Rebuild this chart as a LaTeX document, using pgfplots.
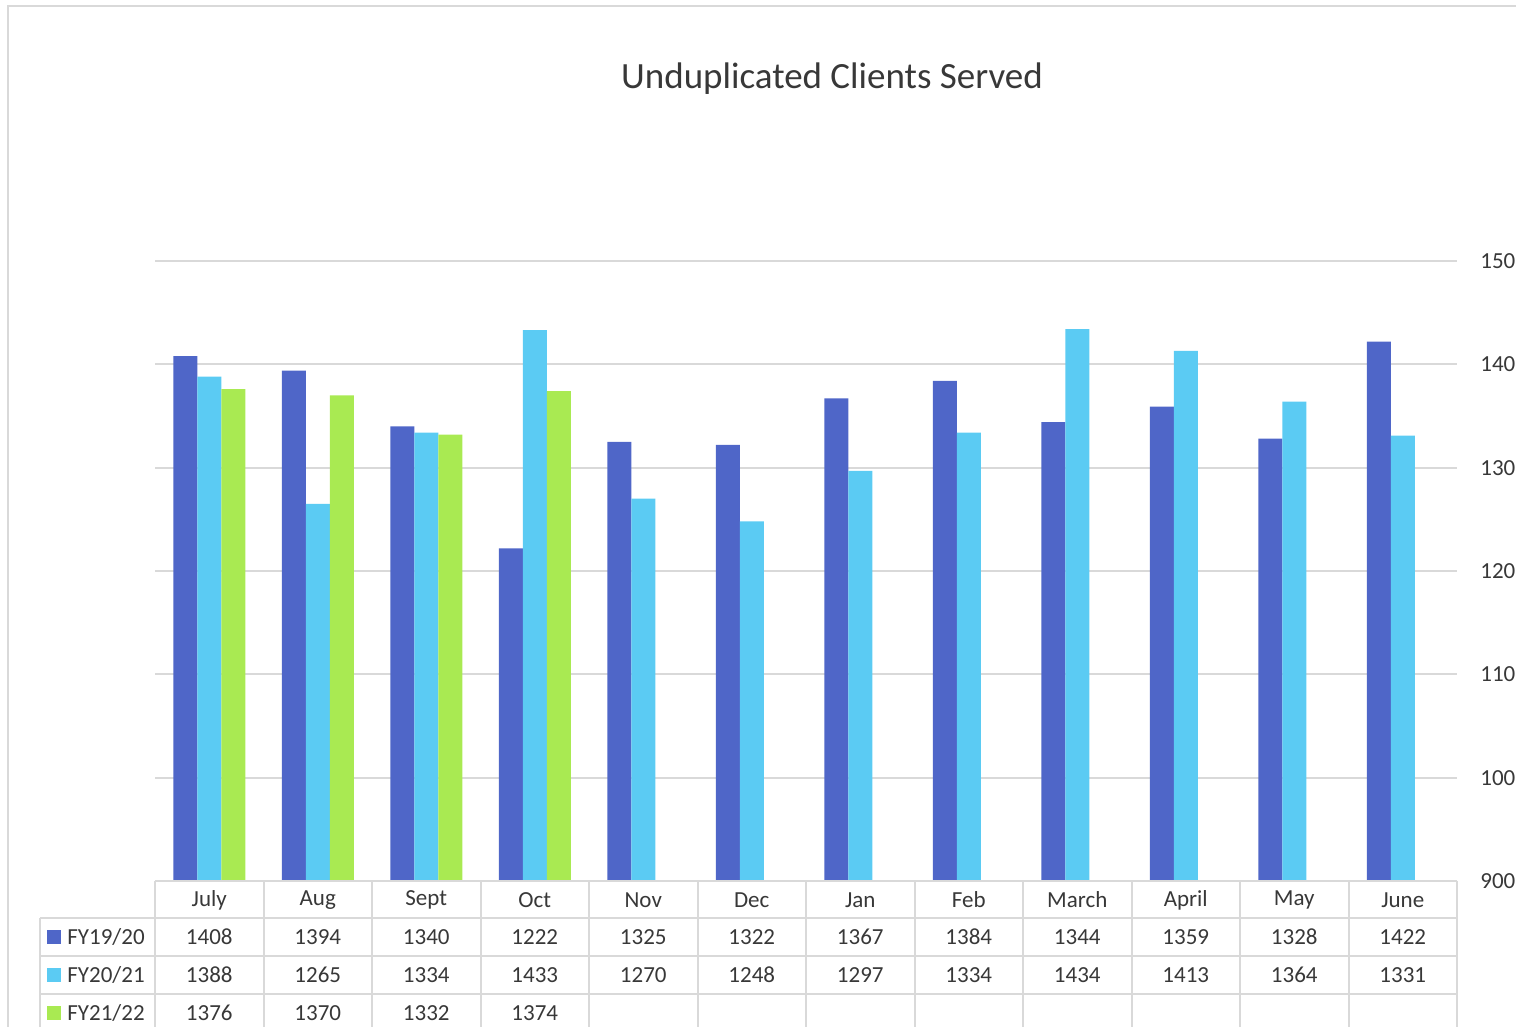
\documentclass[border=0pt]{standalone}
\usepackage{fontspec}
\setmainfont{Carlito}
\usepackage{pgfplots}
\pgfplotsset{compat=1.18}
\definecolor{cA}{RGB}{79,102,200}
\definecolor{cB}{RGB}{91,203,243}
\definecolor{cC}{RGB}{169,234,82}
\definecolor{gridc}{RGB}{217,217,217}
\definecolor{txt}{RGB}{56,56,56}
\begin{document}
\begin{tikzpicture}
\useasboundingbox (0pt,0pt) rectangle (758pt,513.5pt);
\begin{axis}[
  at={(77.5pt,73pt)}, anchor=south west,
  scale only axis, width=651pt, height=310pt,
  xmin=-0.5, xmax=11.5, ymin=900, ymax=1500,
  xtick=\empty,
  ytick={900,1000,1100,1200,1300,1400,1500},
  yticklabels={900,100,110,120,130,140,150},
  yticklabel pos=right,
  yticklabel style={anchor=west, inner sep=0pt, xshift=11.5pt, text=txt, font=\fontsize{11.5}{13}\selectfont},
  /pgf/number format/assume math mode=true,
  major tick length=0pt,
  axis line style={draw=none},
  ymajorgrids, grid style={gridc, line width=1pt},
  ybar=0pt, bar width=12pt,
  clip=false,
]
\addplot[fill=cA, draw=none] coordinates {(0,1408) (1,1394) (2,1340) (3,1222) (4,1325) (5,1322) (6,1367) (7,1384) (8,1344) (9,1359) (10,1328) (11,1422)};
\addplot[fill=cB, draw=none] coordinates {(0,1388) (1,1265) (2,1334) (3,1433) (4,1270) (5,1248) (6,1297) (7,1334) (8,1434) (9,1413) (10,1364) (11,1331)};
\addplot[fill=cC, draw=none] coordinates {(0,1376) (1,1370) (2,1332) (3,1374)};
\end{axis}
\begin{scope}[x=0.5pt,y=0.5pt]
\draw[gridc, line width=1pt] (8,-10) -- (8,1021) -- (1520,1021);
\node[txt, font=\fontsize{18.5}{22}\selectfont] at (832,948) {Unduplicated Clients Served};
\begin{scope}[gridc, line width=1pt]
\draw (155,146) -- (1457,146);
\draw (40,109) -- (1457,109);
\draw (40,71) -- (1457,71);
\draw (40,33) -- (1457,33);
\draw (40,109) -- (40,-10);
\foreach \k in {0,...,12} {\draw ({155+108.5*\k},146) -- ({155+108.5*\k},-10);}
\end{scope}
\begin{scope}[font=\fontsize{11.5}{13}\selectfont, text=txt]
\foreach \m [count=\i from 0] in {July,Aug,Sept,Oct,Nov,Dec,Jan,Feb,March,April,May,June}
  {\node at ({209.25+108.5*\i},127) {\m};}
\foreach \v [count=\i from 0] in {1408,1394,1340,1222,1325,1322,1367,1384,1344,1359,1328,1422}
  {\node at ({209.25+108.5*\i},90) {\v};}
\foreach \v [count=\i from 0] in {1388,1265,1334,1433,1270,1248,1297,1334,1434,1413,1364,1331}
  {\node at ({209.25+108.5*\i},52) {\v};}
\foreach \v [count=\i from 0] in {1376,1370,1332,1374}
  {\node at ({209.25+108.5*\i},14) {\v};}
\fill[cA] (47,83) rectangle (61,97);
\fill[cB] (47,45) rectangle (61,59);
\fill[cC] (47,7) rectangle (61,21);
\node[anchor=west, inner sep=0pt] at (67,90) {FY19/20};
\node[anchor=west, inner sep=0pt] at (67,52) {FY20/21};
\node[anchor=west, inner sep=0pt] at (67,14) {FY21/22};
\end{scope}
\end{scope}
\end{tikzpicture}
\end{document}
